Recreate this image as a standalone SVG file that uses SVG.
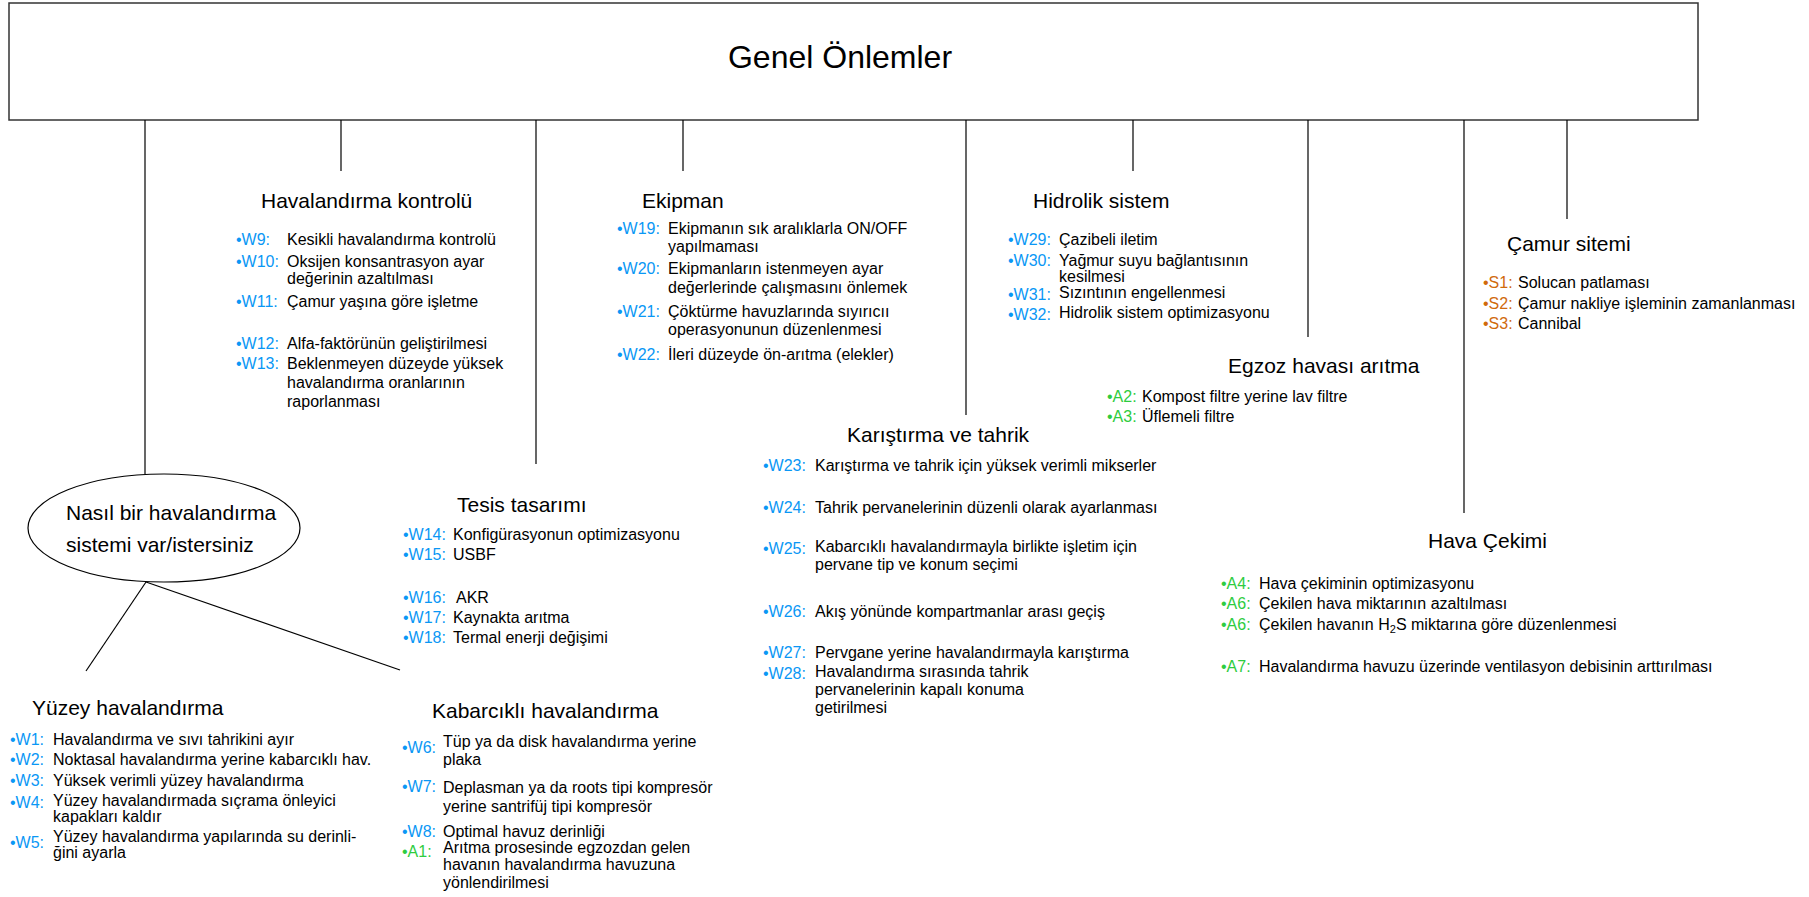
<svg xmlns="http://www.w3.org/2000/svg" width="1809" height="897" viewBox="0 0 1809 897">
<style>
text{font-family:"Liberation Sans",Arial,"DejaVu Sans",sans-serif;fill:#000}
.h{font-size:32px}
.t{font-size:21px}
.i{font-size:16px}
.b{fill:#0A97F5}
.g{fill:#2ECC40}
.o{fill:#D06A0C}
.c line{stroke:#000;stroke-width:1.2}
</style>
<rect width="1809" height="897" fill="#fff"/>
<g id="genel">
<rect x="9" y="3" width="1689" height="117" fill="#fff" stroke="#333" stroke-width="1.5"/>
<text class="h" x="840" y="68" text-anchor="middle">Genel Önlemler</text>
</g>
<g id="connectors" class="c">
<line x1="145" y1="120" x2="145" y2="474"/>
<line x1="341" y1="120" x2="341" y2="171"/>
<line x1="536" y1="120" x2="536" y2="464"/>
<line x1="683" y1="120" x2="683" y2="171"/>
<line x1="966" y1="120" x2="966" y2="415"/>
<line x1="1133" y1="120" x2="1133" y2="171"/>
<line x1="1308" y1="120" x2="1308" y2="337"/>
<line x1="1464" y1="120" x2="1464" y2="513"/>
<line x1="1567" y1="120" x2="1567" y2="219"/>
<line x1="146" y1="582" x2="86" y2="671"/>
<line x1="146" y1="582" x2="400" y2="670"/>
</g>
<g id="soru">
<ellipse cx="164" cy="528" rx="136" ry="54" fill="#fff" stroke="#000" stroke-width="1.2"/>
<text class="t" x="66" y="520">Nasıl bir havalandırma</text>
<text class="t" x="66" y="552">sistemi var/istersiniz</text>
</g>
<g id="havalandirma-kontrolu">
<text class="t" x="261" y="208">Havalandırma kontrolü</text>
<text class="i b" x="236" y="245">•W9:</text><text class="i" x="287" y="245">Kesikli havalandırma kontrolü</text>
<text class="i b" x="236" y="267">•W10:</text><text class="i" x="287" y="267">Oksijen konsantrasyon ayar</text><text class="i" x="287" y="284">değerinin azaltılması</text>
<text class="i b" x="236" y="307">•W11:</text><text class="i" x="287" y="307">Çamur yaşına göre işletme</text>
<text class="i b" x="236" y="349">•W12:</text><text class="i" x="287" y="349">Alfa-faktörünün geliştirilmesi</text>
<text class="i b" x="236" y="369">•W13:</text><text class="i" x="287" y="369">Beklenmeyen düzeyde yüksek</text><text class="i" x="287" y="388">havalandırma oranlarının</text><text class="i" x="287" y="407">raporlanması</text>
</g>
<g id="ekipman">
<text class="t" x="642" y="208">Ekipman</text>
<text class="i b" x="617" y="234">•W19:</text><text class="i" x="668" y="234">Ekipmanın sık aralıklarla ON/OFF</text><text class="i" x="668" y="252">yapılmaması</text>
<text class="i b" x="617" y="274">•W20:</text><text class="i" x="668" y="274">Ekipmanların istenmeyen ayar</text><text class="i" x="668" y="293">değerlerinde çalışmasını önlemek</text>
<text class="i b" x="617" y="317">•W21:</text><text class="i" x="668" y="317">Çöktürme havuzlarında sıyırıcıı</text><text class="i" x="668" y="335">operasyonunun düzenlenmesi</text>
<text class="i b" x="617" y="360">•W22:</text><text class="i" x="668" y="360">İleri düzeyde ön-arıtma (elekler)</text>
</g>
<g id="hidrolik">
<text class="t" x="1033" y="208">Hidrolik sistem</text>
<text class="i b" x="1008" y="245">•W29:</text><text class="i" x="1059" y="245">Çazibeli iletim</text>
<text class="i b" x="1008" y="266">•W30:</text><text class="i" x="1059" y="266">Yağmur suyu bağlantısının</text><text class="i" x="1059" y="282">kesilmesi</text>
<text class="i b" x="1008" y="300">•W31:</text><text class="i" x="1059" y="298">Sızıntının engellenmesi</text>
<text class="i b" x="1008" y="320">•W32:</text><text class="i" x="1059" y="318">Hidrolik sistem optimizasyonu</text>
</g>
<g id="egzoz">
<text class="t" x="1228" y="373">Egzoz havası arıtma</text>
<text class="i g" x="1107" y="402">•A2:</text><text class="i" x="1142" y="402">Kompost filtre yerine lav filtre</text>
<text class="i g" x="1107" y="422">•A3:</text><text class="i" x="1142" y="422">Üflemeli filtre</text>
</g>
<g id="camur">
<text class="t" x="1507" y="251">Çamur sitemi</text>
<text class="i o" x="1483" y="288">•S1:</text><text class="i" x="1518" y="288">Solucan patlaması</text>
<text class="i o" x="1483" y="309">•S2:</text><text class="i" x="1518" y="309">Çamur nakliye işleminin zamanlanması</text>
<text class="i o" x="1483" y="329">•S3:</text><text class="i" x="1518" y="329">Cannibal</text>
</g>
<g id="tesis">
<text class="t" x="457" y="512">Tesis tasarımı</text>
<text class="i b" x="403" y="540">•W14:</text><text class="i" x="453" y="540">Konfigürasyonun optimizasyonu</text>
<text class="i b" x="403" y="560">•W15:</text><text class="i" x="453" y="560">USBF</text>
<text class="i b" x="403" y="603">•W16:</text><text class="i" x="456" y="603">AKR</text>
<text class="i b" x="403" y="623">•W17:</text><text class="i" x="453" y="623">Kaynakta arıtma</text>
<text class="i b" x="403" y="643">•W18:</text><text class="i" x="453" y="643">Termal enerji değişimi</text>
</g>
<g id="karistirma">
<text class="t" x="847" y="442">Karıştırma ve tahrik</text>
<text class="i b" x="763" y="471">•W23:</text><text class="i" x="815" y="471">Karıştırma ve tahrik için yüksek verimli mikserler</text>
<text class="i b" x="763" y="513">•W24:</text><text class="i" x="815" y="513">Tahrik pervanelerinin düzenli olarak ayarlanması</text>
<text class="i b" x="763" y="554">•W25:</text><text class="i" x="815" y="552">Kabarcıklı havalandırmayla birlikte işletim için</text><text class="i" x="815" y="570">pervane tip ve konum seçimi</text>
<text class="i b" x="763" y="617">•W26:</text><text class="i" x="815" y="617">Akış yönünde kompartmanlar arası geçiş</text>
<text class="i b" x="763" y="658">•W27:</text><text class="i" x="815" y="658">Pervgane yerine havalandırmayla karıştırma</text>
<text class="i b" x="763" y="679">•W28:</text><text class="i" x="815" y="677">Havalandırma sırasında tahrik</text><text class="i" x="815" y="695">pervanelerinin kapalı konuma</text><text class="i" x="815" y="713">getirilmesi</text>
</g>
<g id="hava-cekimi">
<text class="t" x="1428" y="548">Hava Çekimi</text>
<text class="i g" x="1221" y="589">•A4:</text><text class="i" x="1259" y="589">Hava çekiminin optimizasyonu</text>
<text class="i g" x="1221" y="609">•A6:</text><text class="i" x="1259" y="609">Çekilen hava miktarının azaltılması</text>
<text class="i g" x="1221" y="630">•A6:</text><text class="i" x="1259" y="630">Çekilen havanın H<tspan font-size="11" dy="3">2</tspan><tspan dy="-3">S miktarına göre düzenlenmesi</tspan></text>
<text class="i g" x="1221" y="672">•A7:</text><text class="i" x="1259" y="672">Havalandırma havuzu üzerinde ventilasyon debisinin arttırılması</text>
</g>
<g id="yuzey">
<text class="t" x="32" y="715">Yüzey havalandırma</text>
<text class="i b" x="10" y="745">•W1:</text><text class="i" x="53" y="745">Havalandırma ve sıvı tahrikini ayır</text>
<text class="i b" x="10" y="765">•W2:</text><text class="i" x="53" y="765">Noktasal havalandırma yerine kabarcıklı hav.</text>
<text class="i b" x="10" y="786">•W3:</text><text class="i" x="53" y="786">Yüksek verimli yüzey havalandırma</text>
<text class="i b" x="10" y="808">•W4:</text><text class="i" x="53" y="806">Yüzey havalandırmada sıçrama önleyici</text><text class="i" x="53" y="822">kapakları kaldır</text>
<text class="i b" x="10" y="848">•W5:</text><text class="i" x="53" y="842">Yüzey havalandırma yapılarında su derinli-</text><text class="i" x="53" y="858">ğini ayarla</text>
</g>
<g id="kabarcikli">
<text class="t" x="432" y="718">Kabarcıklı havalandırma</text>
<text class="i b" x="402" y="753">•W6:</text><text class="i" x="443" y="747">Tüp ya da disk havalandırma yerine</text><text class="i" x="443" y="765">plaka</text>
<text class="i b" x="402" y="792">•W7:</text><text class="i" x="443" y="793">Deplasman ya da roots tipi kompresör</text><text class="i" x="443" y="812">yerine santrifüj tipi kompresör</text>
<text class="i b" x="402" y="837">•W8:</text><text class="i" x="443" y="837">Optimal havuz derinliği</text>
<text class="i g" x="402" y="857">•A1:</text><text class="i" x="443" y="853">Arıtma prosesinde egzozdan gelen</text><text class="i" x="443" y="870">havanın havalandırma havuzuna</text><text class="i" x="443" y="888">yönlendirilmesi</text>
</g>
</svg>
